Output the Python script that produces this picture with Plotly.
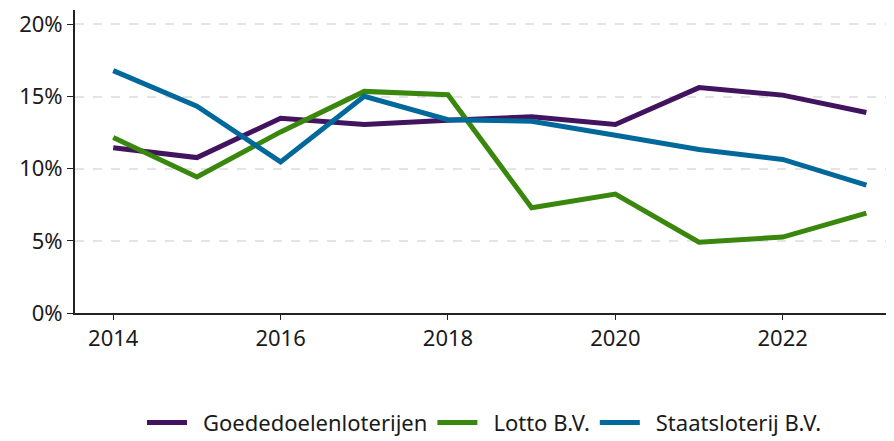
import plotly.graph_objects as go

years = [2014, 2015, 2016, 2017, 2018, 2019, 2020, 2021, 2022, 2023]
goededoelen = [11.45, 10.77, 13.5, 13.06, 13.36, 13.6, 13.06, 15.62, 15.1, 13.9]
lotto = [12.16, 9.43, 12.55, 15.36, 15.13, 7.29, 8.24, 4.91, 5.26, 6.92]
staats = [16.8, 14.33, 10.47, 15.02, 13.4, 13.29, 12.32, 11.33, 10.64, 8.86]

y_ticks = [0, 5, 10, 15, 20]
y_ticktext = ["0%", "5%", "10%", "15%", "20%"]

series = [
    ("Goededoelenloterijen", goededoelen, "#42145f"),
    ("Lotto B.V.", lotto, "#39870c"),
    ("Staatsloterij B.V.", staats, "#01689b"),
]

fig = go.Figure()
for name, vals, color in series:
    fig.add_trace(go.Scatter(x=years, y=vals, name="\u2002" + name, mode="lines",
                             line=dict(color=color, width=5)))

font = "Noto Sans, sans-serif"
fig.update_layout(
    width=886, height=433,
    margin=dict(l=67, r=0, t=2, b=128),
    paper_bgcolor="white", plot_bgcolor="white",
    font=dict(family=font, size=22, color="#1a1a1a"),
    showlegend=True,
    legend=dict(orientation="h", x=0.5, xanchor="center",
                yref="container", y=0.042, yanchor="middle",
                font=dict(size=22), traceorder="normal", itemwidth=40),
    xaxis=dict(range=[2013.543, 2023.33], tickmode="linear", tick0=2014, dtick=2,
               showgrid=False, zeroline=False, showline=True, linecolor="#222", linewidth=2,
               ticks="outside", ticklen=5, tickcolor="#222", tickformat="d"),
    yaxis=dict(range=[0, 21], tickvals=y_ticks, ticktext=y_ticktext,
               ticklabeloverflow="allow",
               showgrid=True, gridcolor="#e4e4e4", griddash="dash", gridwidth=1.5,
               zeroline=False, showline=True, linecolor="#222", linewidth=2,
               ticks="outside", ticklen=6, tickcolor="#222"),
)
fig.write_html("out.html")
